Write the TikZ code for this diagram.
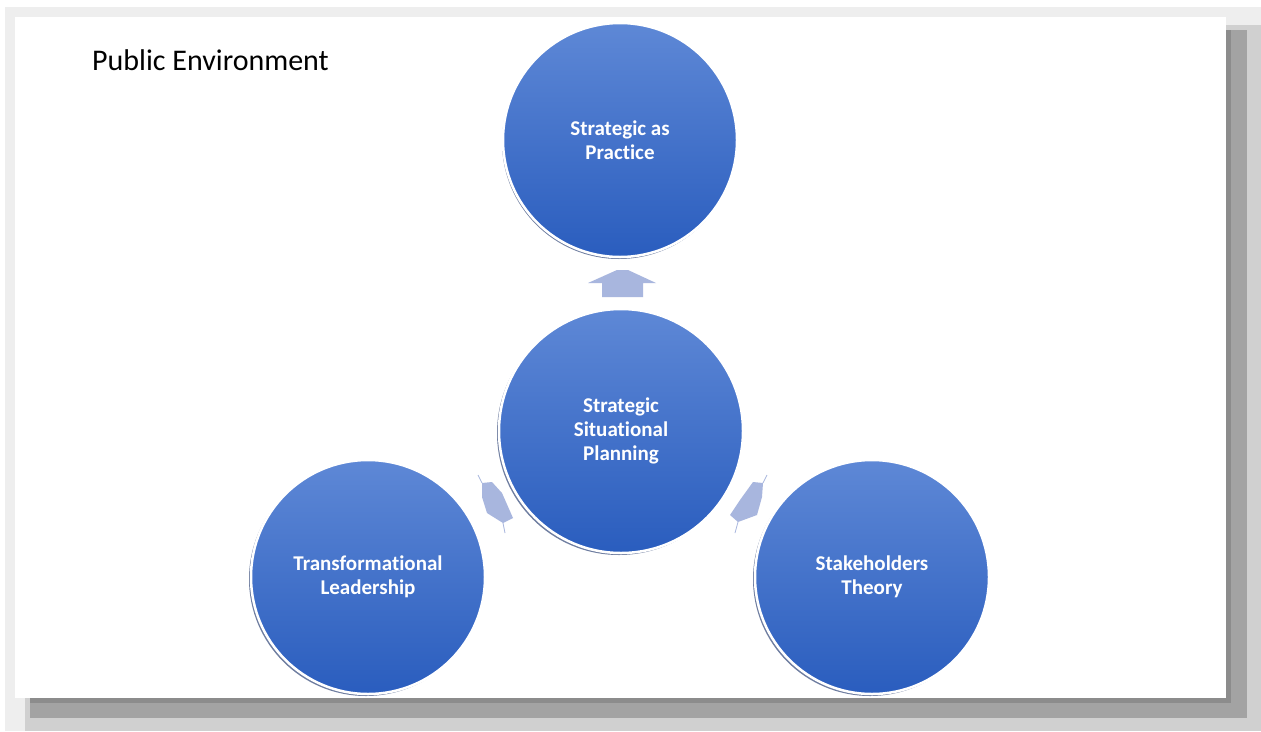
\documentclass[tikz,border=0pt]{standalone}
\usepackage{fontspec}
\setmainfont{Carlito}[Ligatures={NoCommon}]
\definecolor{ctop}{RGB}{94,136,214}
\definecolor{cbot}{RGB}{42,93,190}
\definecolor{arrowc}{RGB}{168,182,222}
\definecolor{sha}{RGB}{140,140,140}
\definecolor{shb}{RGB}{163,163,163}
\definecolor{shc}{RGB}{208,208,208}
\definecolor{outerbg}{RGB}{238,238,238}
\definecolor{circshadow}{RGB}{110,125,160}
\begin{document}
\begin{tikzpicture}[x=1pt,y=-1pt,
  bubble/.style={circle, inner sep=0pt, minimum size=#1, top color=ctop, bottom color=cbot,
    draw=white, line width=2.5pt, text=white, align=center,
    font=\bfseries\fontsize{21}{24}\selectfont},
  arrowshape/.style={fill=arrowc, draw=none},
  tipline/.style={draw=arrowc, line width=0.8pt},
  titlestyle/.style={anchor=west, inner sep=0pt, font=\fontsize{30}{34}\selectfont, text=black}]
\useasboundingbox (0,0) rectangle (1261,731);
% page and panel shadow
\fill[white] (0,0) rectangle (1261,731);
\fill[outerbg] (5,7) rectangle (1261,731);
\fill[shc] (25,25) rectangle (1261,731);
\fill[shb] (30,30) rectangle (1247,718);
\fill[sha] (30,30) rectangle (1231,703);
\fill[white] (15,17) rectangle (1226,698);
% title
\node[titlestyle] (env) at (92,60) {Public Environment};
% arrows
\fill[arrowshape] (602,297) -- (643,297) -- (643,283) -- (656,283) -- (628,270) -- (617,270) -- (588,283) -- (602,283) -- cycle;
\fill[arrowshape] (482,483) -- (492,482) -- (502,493) -- (513,518) -- (503,523) -- (487,513) -- (482,497) -- cycle;
\draw[tipline] (478,475) -- (482,483);
\draw[tipline] (503,523) -- (505,533);
\fill[arrowshape] (763,483) -- (753,482) -- (740,500) -- (730,515) -- (738,522) -- (757,515) -- (762,497) -- cycle;
\draw[tipline] (767,475) -- (763,483);
\draw[tipline] (738,522) -- (735,533);
% circle shadows
\fill[circshadow] (619,142) circle (117);
\fill[circshadow] (619,433) circle (122);
\fill[circshadow] (366,579) circle (117);
\fill[circshadow] (870,579) circle (117);
% circles
\node[bubble=234] (top) at (620,140) {Strategic as\\Practice};
\node[bubble=244] (center) at (621,431) {Strategic\\Situational\\Planning};
\node[bubble=234] (left) at (368,577) {Transformational\\Leadership};
\node[bubble=234] (right) at (872,577) {Stakeholders\\Theory};
\end{tikzpicture}
\end{document}
